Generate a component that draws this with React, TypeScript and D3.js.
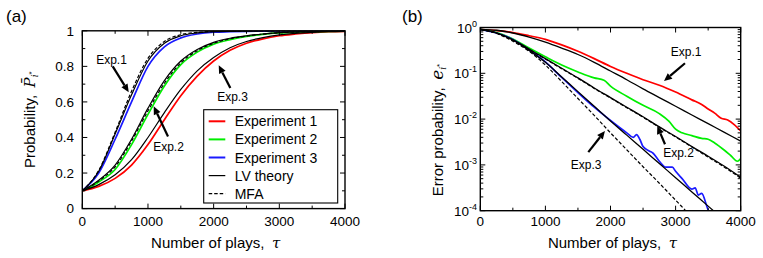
import React from 'react';
import * as d3 from 'd3';

// ---- data ----
// panel (a): probability of the best option vs number of plays
const tauA = [0, 250, 500, 750, 1000, 1250, 1500, 1750, 2000, 2250, 2500, 2750, 3000, 3250, 3500, 3750, 4000];
const probExp1 = [0.1, 0.125, 0.17, 0.245, 0.36, 0.5, 0.635, 0.745, 0.83, 0.89, 0.93, 0.955, 0.972, 0.982, 0.99, 0.995, 0.997];
const probExp2 = [0.1, 0.15, 0.22, 0.36, 0.53, 0.69, 0.81, 0.88, 0.925, 0.95, 0.968, 0.98, 0.988, 0.992, 0.995, 0.997, 0.998];
const probExp3 = [0.1, 0.2, 0.39, 0.6, 0.8, 0.91, 0.96, 0.982, 0.992, 0.995, 0.997, 0.998, 0.999, 0.999, 1, 1, 1];
const probLV1 = [0.1, 0.135, 0.19, 0.275, 0.4, 0.54, 0.67, 0.775, 0.85, 0.905, 0.94, 0.962, 0.977, 0.986, 0.991, 0.995, 0.997];
const probLV2 = [0.1, 0.16, 0.245, 0.39, 0.565, 0.72, 0.83, 0.895, 0.935, 0.958, 0.972, 0.982, 0.99, 0.993, 0.996, 0.997, 0.998];
const probLV3 = [0.1, 0.21, 0.42, 0.64, 0.83, 0.93, 0.972, 0.988, 0.995, 0.997, 0.998, 0.999, 0.999, 1, 1, 1, 1];
const probMFA2 = [0.1, 0.155, 0.235, 0.38, 0.55, 0.705, 0.82, 0.888, 0.93, 0.955, 0.97, 0.981, 0.989, 0.993, 0.995, 0.997, 0.998];
const probMFA3 = [0.1, 0.215, 0.43, 0.66, 0.845, 0.94, 0.978, 0.991, 0.996, 0.998, 0.999, 1, 1, 1, 1, 1, 1];

// panel (b): error probability, stored as log10 values (read in decades)
const tauB = [0, 250, 500, 750, 1000, 1250, 1500, 1750, 2000, 2250, 2500, 2750, 3000, 3250, 3500, 3750, 4000];
const tauErrExp1 = [0, 250, 500, 750, 1000, 1250, 1500, 1750, 2000, 2250, 2500, 2750, 3000, 3250, 3400, 3500, 3600, 3700, 3800, 3900, 4000];
const logErrExp1 = [-0.04, -0.07, -0.11, -0.18, -0.26, -0.38, -0.52, -0.68, -0.85, -1.0, -1.14, -1.26, -1.41, -1.58, -1.68, -1.78, -1.87, -1.98, -2.02, -2.12, -2.26];
const tauErrExp2 = [0, 250, 500, 750, 1000, 1250, 1500, 1750, 1900, 2000, 2250, 2500, 2750, 2900, 3000, 3100, 3250, 3400, 3500, 3600, 3750, 3850, 3950, 4000];
const logErrExp2 = [-0.04, -0.11, -0.25, -0.45, -0.64, -0.82, -0.97, -1.1, -1.15, -1.28, -1.5, -1.7, -1.88, -2.05, -2.22, -2.3, -2.36, -2.42, -2.44, -2.52, -2.68, -2.8, -2.92, -2.86];
const tauErrExp3 = [0, 250, 500, 750, 1000, 1250, 1500, 1750, 2000, 2250, 2350, 2400, 2450, 2500, 2600, 2650, 2750, 2850, 2950, 3000, 3100, 3250, 3300, 3350, 3400, 3500, 3560];
const logErrExp3 = [-0.04, -0.12, -0.26, -0.49, -0.75, -1.09, -1.42, -1.74, -2.03, -2.3, -2.4, -2.34, -2.44, -2.6, -2.7, -2.74, -2.92, -3.05, -3.05, -3.14, -3.3, -3.53, -3.5, -3.66, -3.62, -3.98, -4.1];
const logErrLV1 = [-0.04, -0.06, -0.12, -0.21, -0.32, -0.45, -0.59, -0.76, -0.95, -1.14, -1.34, -1.53, -1.72, -1.91, -2.1, -2.29, -2.48];
const logErrLV2 = [-0.04, -0.12, -0.27, -0.47, -0.68, -0.89, -1.1, -1.32, -1.53, -1.74, -1.95, -2.17, -2.38, -2.6, -2.81, -3.03, -3.27];
const logErrLV3 = [-0.04, -0.12, -0.27, -0.5, -0.76, -1.08, -1.4, -1.72, -2.04, -2.35, -2.66, -2.97, -3.28, -3.59, -3.9, -4.21, -4.52];
const logErrMFA2 = [-0.04, -0.12, -0.28, -0.48, -0.69, -0.9, -1.11, -1.33, -1.54, -1.75, -1.96, -2.18, -2.39, -2.61, -2.83, -3.05, -3.29];
const logErrMFA3 = [-0.04, -0.13, -0.3, -0.52, -0.82, -1.18, -1.55, -1.92, -2.3, -2.67, -3.04, -3.4, -3.77, -4.14, -4.5, -4.9, -5.3];

const xTicks = [0, 1000, 2000, 3000, 4000];
const xMinor = [500, 1500, 2500, 3500];
const yTicksA = [0, 0.2, 0.4, 0.6, 0.8, 1];
const yTickLabelsA = ['0', '0.2', '0.4', '0.6', '0.8', '1'];
const decadesB = [0, -1, -2, -3, -4];

const legendLabels = ['Experiment 1', 'Experiment 2', 'Experiment 3', 'LV theory', 'MFA'];
const RED = '#ff0000';
const GREEN = '#00ee00';
const BLUE = '#1a1aff';

// annotations in data units: label centre, arrow start, arrow tip
const notesA = [
  { text: 'Exp.1', t: [445, 0.835], from: [463, 0.8], to: [707, 0.655] },
  { text: 'Exp.2', t: [1313, 0.35], from: [1305, 0.405], to: [1087, 0.575] },
  { text: 'Exp.3', t: [2287, 0.63], from: [2254, 0.678], to: [2077, 0.806] },
];
const notesB = [
  { text: 'Exp.1', t: [3163, -0.53], from: [3144, -0.78], to: [2822, -1.17] },
  { text: 'Exp.2', t: [3045, -2.73], from: [2837, -2.55], to: [2719, -2.15] },
  { text: 'Exp.3', t: [1627, -3.0], from: [1659, -2.72], to: [1915, -2.26] },
];

const FONT = '"Liberation Sans", Arial, Helvetica, sans-serif';
const SERIF = '"DejaVu Serif", serif';

function Arrow({ x1, y1, x2, y2 }: { x1: number; y1: number; x2: number; y2: number }) {
  const a = Math.atan2(y2 - y1, x2 - x1);
  const L = 8, hw = 3.6;
  const bx = x2 - L * Math.cos(a), by = y2 - L * Math.sin(a);
  const px = -Math.sin(a) * hw, py = Math.cos(a) * hw;
  return (
    <g>
      <line x1={x1} y1={y1} x2={bx} y2={by} stroke="#000" strokeWidth={2.2} />
      <polygon points={`${x2},${y2} ${bx + px},${by + py} ${bx - px},${by - py}`} fill="#000" />
    </g>
  );
}

export default function App() {
  // ---- panel (a) ----
  const xa = d3.scaleLinear().domain([0, 4000]).range([82.3, 345]);
  const ya = d3.scaleLinear().domain([0, 1]).range([208.6, 30.8]);
  const lineA = (xs: number[], ys: number[]) =>
    d3.line<number>().x((_, i) => xa(xs[i])).y(d => ya(d)).curve(d3.curveMonotoneX)(ys) || '';

  // ---- panel (b) ----
  const xb = d3.scaleLinear().domain([0, 4000]).range([480.3, 740.7]);
  const yb = d3.scaleLog().domain([1e-4, 1]).range([210.7, 27.5]);
  const lineB = (xs: number[], ys: number[]) =>
    d3.line<number>().x((_, i) => xb(xs[i])).y(d => yb(Math.pow(10, d))).curve(d3.curveMonotoneX)(ys) || '';

  const minorB: number[] = [];
  for (let e = -4; e < 0; e++) for (let m = 2; m <= 9; m++) minorB.push(m * Math.pow(10, e));

  const tickStroke = { stroke: '#000', strokeWidth: 1 };

  const [ax0, ax1] = xa.range();
  const [ay0, ay1] = ya.range();
  const [bx0, bx1] = xb.range();
  const [by0, by1] = yb.range();

  return (
    <svg width={763} height={258} style={{ position: 'absolute', left: 0, top: 0, background: '#fff' }}
      fontFamily={FONT}>
      <defs>
        <clipPath id="clipA"><rect x={ax0} y={ay1} width={ax1 - ax0} height={ay0 - ay1} /></clipPath>
        <clipPath id="clipB"><rect x={bx0} y={by1} width={bx1 - bx0} height={by0 - by1} /></clipPath>
      </defs>

      {/* ======== panel (a) ======== */}
      <text x={6} y={22} fontSize={17}>(a)</text>
      <g clipPath="url(#clipA)" fill="none">
        <path d={lineA(tauA, probExp1)} stroke={RED} strokeWidth={1.7} />
        <path d={lineA(tauA, probExp2)} stroke={GREEN} strokeWidth={1.7} />
        <path d={lineA(tauA, probExp3)} stroke={BLUE} strokeWidth={1.7} />
        <path d={lineA(tauA, probLV1)} stroke="#000" strokeWidth={1.2} />
        <path d={lineA(tauA, probLV2)} stroke="#000" strokeWidth={1.2} />
        <path d={lineA(tauA, probLV3)} stroke="#000" strokeWidth={1.2} />
        <path d={lineA(tauA, probMFA2)} stroke="#000" strokeWidth={1.2} strokeDasharray="3.5,2" />
        <path d={lineA(tauA, probMFA3)} stroke="#000" strokeWidth={1.2} strokeDasharray="3.5,2" />
      </g>
      {xTicks.map(t => (
        <g key={'axt' + t}>
          <line x1={xa(t)} x2={xa(t)} y1={ay0} y2={ay0 - 5} {...tickStroke} />
          <line x1={xa(t)} x2={xa(t)} y1={ay1} y2={ay1 + 5} {...tickStroke} />
          <text x={xa(t)} y={226} fontSize={13.5} textAnchor="middle">{String(t)}</text>
        </g>
      ))}
      {xMinor.map(t => (
        <g key={'axm' + t}>
          <line x1={xa(t)} x2={xa(t)} y1={ay0} y2={ay0 - 3} {...tickStroke} />
          <line x1={xa(t)} x2={xa(t)} y1={ay1} y2={ay1 + 3} {...tickStroke} />
        </g>
      ))}
      {yTicksA.map((t, i) => (
        <g key={'ayt' + t}>
          <line x1={ax0} x2={ax0 + 5} y1={ya(t)} y2={ya(t)} {...tickStroke} />
          <line x1={ax1} x2={ax1 - 5} y1={ya(t)} y2={ya(t)} {...tickStroke} />
          <text x={74} y={ya(t) + 4.8} fontSize={13.5} textAnchor="end">{yTickLabelsA[i]}</text>
        </g>
      ))}
      {yTicksA.slice(0, -1).map(t => (
        <g key={'aym' + t}>
          <line x1={ax0} x2={ax0 + 3} y1={ya(t + 0.1)} y2={ya(t + 0.1)} {...tickStroke} />
          <line x1={ax1} x2={ax1 - 3} y1={ya(t + 0.1)} y2={ya(t + 0.1)} {...tickStroke} />
        </g>
      ))}
      <rect x={ax0} y={ay1} width={ax1 - ax0} height={ay0 - ay1} fill="none" stroke="#000" strokeWidth={1.4} />
      <text x={(ax0 + ax1) / 2 + 2} y={248} fontSize={15} textAnchor="middle">
        {'Number of plays,\u2002'}<tspan fontFamily={SERIF} fontStyle="italic">τ</tspan>
      </text>
      <text transform={`translate(35,${(ay0 + ay1) / 2}) rotate(-90)`} fontSize={15} textAnchor="middle">
        {'Probability,\u2002'}
        <tspan fontFamily={SERIF} fontStyle="italic">{'P\u0304'}</tspan>
        <tspan fontFamily={SERIF} fontStyle="italic" fontSize={9} dy={3}>i</tspan>
        <tspan fontSize={8} dy={-4}>*</tspan>
      </text>
      {/* legend */}
      <rect x={203.7} y={109.7} width={134} height={93.3} fill="#fff" stroke="#000" strokeWidth={1.1} />
      {legendLabels.map((lab, i) => {
        const yy = 121.3 + i * 18.1;
        const col = [RED, GREEN, BLUE, '#000', '#000'][i];
        return (
          <g key={lab}>
            <line x1={208.7} x2={225.3} y1={yy} y2={yy} stroke={col} strokeWidth={i < 3 ? 2 : 1.2}
              strokeDasharray={i === 4 ? '3.5,2' : undefined} />
            <text x={234.7} y={yy + 5} fontSize={14}>{lab}</text>
          </g>
        );
      })}
      {notesA.map(n => (
        <g key={'na' + n.text}>
          <text x={xa(n.t[0])} y={ya(n.t[1]) + 4.3} fontSize={12} textAnchor="middle">{n.text}</text>
          <Arrow x1={xa(n.from[0])} y1={ya(n.from[1])} x2={xa(n.to[0])} y2={ya(n.to[1])} />
        </g>
      ))}

      {/* ======== panel (b) ======== */}
      <text x={402} y={22} fontSize={17}>(b)</text>
      <g clipPath="url(#clipB)" fill="none">
        <path d={lineB(tauErrExp1, logErrExp1)} stroke={RED} strokeWidth={1.7} />
        <path d={lineB(tauErrExp2, logErrExp2)} stroke={GREEN} strokeWidth={1.7} />
        <path d={lineB(tauErrExp3, logErrExp3)} stroke={BLUE} strokeWidth={1.7} />
        <path d={lineB(tauB, logErrLV1)} stroke="#000" strokeWidth={1.3} />
        <path d={lineB(tauB, logErrLV2)} stroke="#000" strokeWidth={1.3} />
        <path d={lineB(tauB, logErrLV3)} stroke="#000" strokeWidth={1.3} />
        <path d={lineB(tauB, logErrMFA2)} stroke="#000" strokeWidth={1.2} strokeDasharray="3.5,2" />
        <path d={lineB(tauB, logErrMFA3)} stroke="#000" strokeWidth={1.2} strokeDasharray="3.5,2" />
      </g>
      {xTicks.map(t => (
        <g key={'bxt' + t}>
          <line x1={xb(t)} x2={xb(t)} y1={by0} y2={by0 - 5} {...tickStroke} />
          <line x1={xb(t)} x2={xb(t)} y1={by1} y2={by1 + 5} {...tickStroke} />
          <text x={xb(t)} y={226} fontSize={13.5} textAnchor="middle">{String(t)}</text>
        </g>
      ))}
      {xMinor.map(t => (
        <g key={'bxm' + t}>
          <line x1={xb(t)} x2={xb(t)} y1={by0} y2={by0 - 3} {...tickStroke} />
          <line x1={xb(t)} x2={xb(t)} y1={by1} y2={by1 + 3} {...tickStroke} />
        </g>
      ))}
      {decadesB.map(e => (
        <g key={'byt' + e}>
          <line x1={bx0} x2={bx0 + 5} y1={yb(Math.pow(10, e))} y2={yb(Math.pow(10, e))} {...tickStroke} />
          <line x1={bx1} x2={bx1 - 5} y1={yb(Math.pow(10, e))} y2={yb(Math.pow(10, e))} {...tickStroke} />
          <text x={477} y={yb(Math.pow(10, e)) + 5} fontSize={13.5} textAnchor="end">
            {'10'}<tspan fontSize={9} dy={-6}>{e === 0 ? '0' : '-' + -e}</tspan>
          </text>
        </g>
      ))}
      {minorB.map(v => (
        <g key={'bym' + v}>
          <line x1={bx0} x2={bx0 + 3} y1={yb(v)} y2={yb(v)} {...tickStroke} />
          <line x1={bx1} x2={bx1 - 3} y1={yb(v)} y2={yb(v)} {...tickStroke} />
        </g>
      ))}
      <rect x={bx0} y={by1} width={bx1 - bx0} height={by0 - by1} fill="none" stroke="#000" strokeWidth={1.4} />
      <text x={(bx0 + bx1) / 2 + 2} y={248} fontSize={15} textAnchor="middle">
        {'Number of plays,\u2002'}<tspan fontFamily={SERIF} fontStyle="italic">τ</tspan>
      </text>
      <text transform={`translate(443,130) rotate(-90)`} fontSize={15} textAnchor="middle">
        {'Error probability,\u2002'}
        <tspan fontFamily={SERIF} fontStyle="italic" fontSize={17}>e</tspan>
        <tspan fontFamily={SERIF} fontStyle="italic" fontSize={9} dy={3}>i</tspan>
        <tspan fontSize={8} dy={-4}>*</tspan>
      </text>
      {notesB.map(n => (
        <g key={'nb' + n.text}>
          <text x={xb(n.t[0])} y={yb(Math.pow(10, n.t[1])) + 4.3} fontSize={12} textAnchor="middle">{n.text}</text>
          <Arrow x1={xb(n.from[0])} y1={yb(Math.pow(10, n.from[1]))} x2={xb(n.to[0])} y2={yb(Math.pow(10, n.to[1]))} />
        </g>
      ))}
    </svg>
  );
}
